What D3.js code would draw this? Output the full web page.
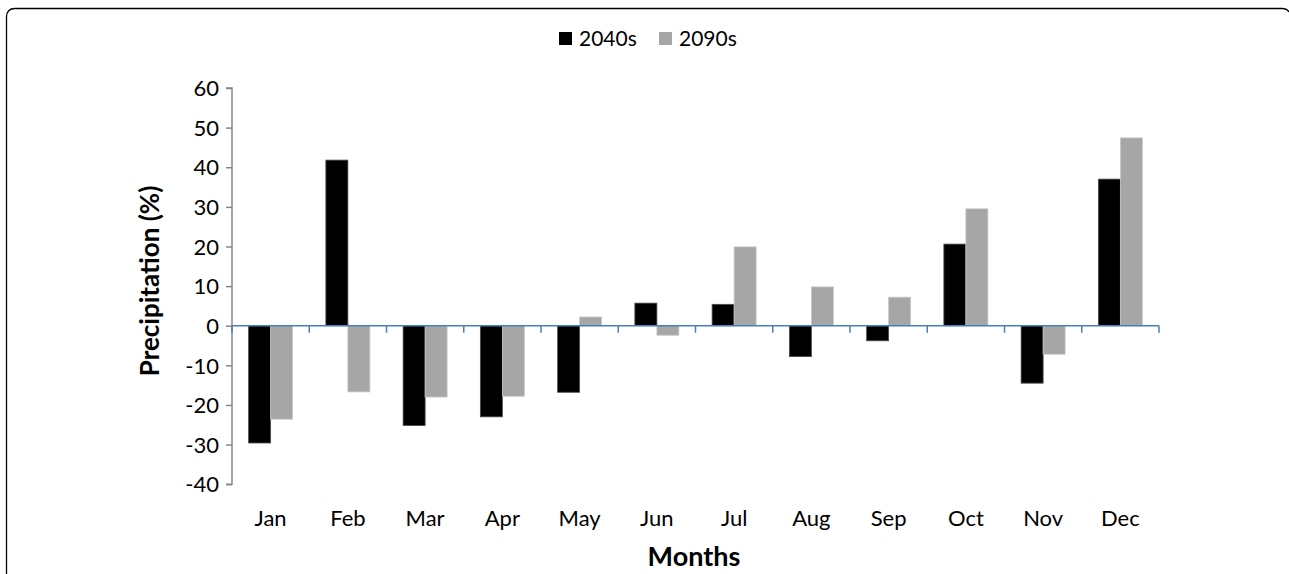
<!DOCTYPE html>
<html>
<head>
<meta charset="utf-8">
<script src="https://cdn.jsdelivr.net/npm/d3@7"></script>
<style>
  html, body { margin: 0; padding: 0; background: #fff; }
  svg { display: block; }
  text { font-family: Lato, "Open Sans", sans-serif; fill: #000; }
</style>
</head>
<body>
<svg id="chart" width="1289" height="574"></svg>
<script>
const months = ["Jan","Feb","Mar","Apr","May","Jun","Jul","Aug","Sep","Oct","Nov","Dec"];
const seriesNames = ["2040s", "2090s"];
const values2040s = [-29.6, 41.8, -25.2, -23.0, -16.8, 5.7, 5.4, -7.8, -3.8, 20.6, -14.5, 37.0];
const values2090s = [-23.6, -16.7, -18.0, -17.8, 2.2, -2.4, 19.9, 9.8, 7.2, 29.5, -7.2, 47.4];
const yTicks = [-40, -30, -20, -10, 0, 10, 20, 30, 40, 50, 60];
const colors = ["#000000", "#a6a6a6"];
const strokes = ["#4d4d4d", "#c8c8c8"];

const svg = d3.select("#chart");

// outer frame (rounded top-left corner, bottom cut off)
svg.append("path")
  .attr("d", "M6.5,580 L6.5,17 Q6.5,8.5 15,8.5 L1282,8.5 Q1287,8.5 1289,12")
  .attr("fill", "none").attr("stroke", "#000").attr("stroke-width", 1.3);

const plot = { left: 232, right: 1159, top: 88, bottom: 484.2 };

const x = d3.scaleBand().domain(months).range([plot.left, plot.right]).paddingInner(0).paddingOuter(0);
const y = d3.scaleLinear().domain([-40, 60]).range([plot.bottom, plot.top]);

const data = months.map((m, i) => ({ month: m, vals: [values2040s[i], values2090s[i]] }));

const barW = 22;
const g = svg.append("g");
data.forEach(d => {
  const cx = x(d.month) + x.bandwidth() / 2;
  d.vals.forEach((v, j) => {
    const x0 = cx - barW + j * barW;
    g.append("rect")
      .attr("x", x0)
      .attr("y", Math.min(y(v), y(0)))
      .attr("width", barW)
      .attr("height", Math.abs(y(v) - y(0)))
      .attr("fill", colors[j])
      .attr("stroke", strokes[j])
      .attr("stroke-width", 0.8);
  });
});

// Y axis
const yAxis = d3.axisLeft(y).tickValues(yTicks).tickSize(6).tickPadding(7).tickFormat(d => String(d));
const yg = svg.append("g").attr("transform", `translate(${plot.left},0)`).call(yAxis);
yg.select(".domain").attr("stroke", "#868686").attr("stroke-width", 1.5).attr("d", `M-6,${plot.top}H0V${plot.bottom}H-6`);
yg.selectAll(".tick line").attr("stroke", "#868686").attr("stroke-width", 1.5);
yg.selectAll(".tick text").style("font-size", "22px").style("font-family", "Lato, sans-serif").attr("fill", "#000").attr("dy", "0.35em");

// X axis at zero
const xAxis = d3.axisBottom(x).tickSize(0).tickFormat("");
const xg = svg.append("g").attr("transform", `translate(0,${y(0)})`).call(xAxis);
xg.select(".domain").attr("stroke", "#4a7ebb").attr("stroke-width", 1.5).attr("d", `M${plot.left},0H${plot.right}`);
xg.selectAll(".tick").remove();
const boundaries = months.map(m => x(m)).concat([plot.right]);
xg.selectAll("line.bd").data(boundaries).enter().append("line")
  .attr("x1", d => d).attr("x2", d => d).attr("y1", 0).attr("y2", 7)
  .attr("stroke", "#4a7ebb").attr("stroke-width", 1.5);

// Month labels at bottom
svg.append("g").selectAll("text").data(months).enter().append("text")
  .attr("x", d => x(d) + x.bandwidth() / 2)
  .attr("y", 526)
  .attr("text-anchor", "middle")
  .style("font-size", "22px")
  .text(d => d);

// Axis titles
svg.append("text")
  .attr("transform", `translate(159,281) rotate(-90)`)
  .attr("text-anchor", "middle")
  .style("font-size", "26px").style("font-weight", "bold")
  .text("Precipitation (%)");

svg.append("text")
  .attr("x", 694).attr("y", 566)
  .attr("text-anchor", "middle")
  .style("font-size", "27px").style("font-weight", "bold")
  .text("Months");

// Legend
const legend = svg.append("g");
const legendX = [559, 659];
seriesNames.forEach((s, i) => {
  legend.append("rect").attr("x", legendX[i]).attr("y", 32).attr("width", 13).attr("height", 13).attr("fill", colors[i]);
  legend.append("text").attr("x", legendX[i] + 20).attr("y", 46).style("font-size", "21px").text(s);
});
</script>
</body>
</html>
